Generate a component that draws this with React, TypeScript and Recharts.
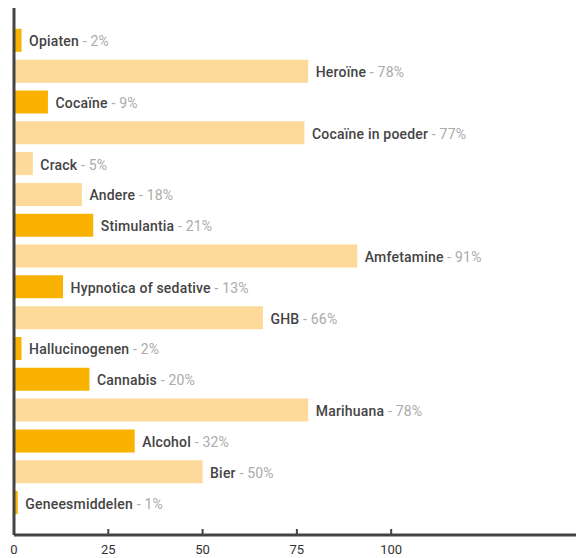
import { BarChart, Bar, XAxis, YAxis, Cell, LabelList, ReferenceLine } from "recharts";

const categories = [
  "Opiaten",
  "Heroïne",
  "Cocaïne",
  "Cocaïne in poeder",
  "Crack",
  "Andere",
  "Stimulantia",
  "Amfetamine",
  "Hypnotica of sedative",
  "GHB",
  "Hallucinogenen",
  "Cannabis",
  "Marihuana",
  "Alcohol",
  "Bier",
  "Geneesmiddelen",
];
const values = [2, 78, 9, 77, 5, 18, 21, 91, 13, 66, 2, 20, 78, 32, 50, 1];
// main group (dark) vs sub category (light)
const isGroup = [true, false, true, false, false, false, true, false, true, false, true, true, false, true, false, true];
const xTicks = [0, 25, 50, 75, 100];

const DARK = "#F9B200";
const LIGHT = "#FDDA9A";
const AXIS = "#444444";
const FONT = "Roboto, 'Noto Sans', sans-serif";

const data = categories.map((name, i) => ({ name, value: values[i], group: isGroup[i] }));

const BarLabel = (props: any) => {
  const { x, y, width, height, index } = props;
  const d = data[index];
  return (
    <text
      x={x + width + 7.5}
      y={y + height / 2}
      dy={6}
      fontFamily={FONT}
      fontSize={14}
      letterSpacing={0.2}
    >
      <tspan fill="#444444" fontWeight={500}>{d.name}</tspan>
      <tspan fill="#aaaaaa" fontWeight={400}>{` - ${d.value}%`}</tspan>
    </text>
  );
};

const XTick = (props: any) => {
  const { x, y, payload } = props;
  return (
    <g>
      <line x1={x} x2={x} y1={y - 6} y2={y} stroke={AXIS} strokeWidth={2} />
      <text x={x} y={y + 19} textAnchor="middle" fill="#333333" fontFamily={FONT} fontSize={13}>
        {payload.value}
      </text>
    </g>
  );
};

export default function App() {
  return (
    <div style={{ position: "absolute", left: 0, top: 0, background: "#fff" }}>
      <BarChart
        width={576}
        height={558}
        data={data}
        layout="vertical"
        margin={{ top: 8, right: 0, bottom: 0, left: 14 }}
        barCategoryGap="12.5%"
      >
        <XAxis
          type="number"
          domain={[0, 149]}
          ticks={xTicks}
          allowDataOverflow
          height={23}
          tickSize={0}
          tickMargin={0}
          tickLine={false}
          tick={<XTick />}
          axisLine={{ stroke: AXIS, strokeWidth: 3 }}
        />
        <YAxis
          type="category"
          dataKey="name"
          width={0}
          tick={false}
          tickLine={false}
          axisLine={false}
          padding={{ top: 17, bottom: 17 }}
        />
        <Bar dataKey="value" isAnimationActive={false}>
          {data.map((d, i) => (
            <Cell key={i} fill={d.group ? DARK : LIGHT} />
          ))}
          <LabelList dataKey="value" content={<BarLabel />} />
        </Bar>
        <ReferenceLine x={0} stroke={AXIS} strokeWidth={3} />
      </BarChart>
    </div>
  );
}
